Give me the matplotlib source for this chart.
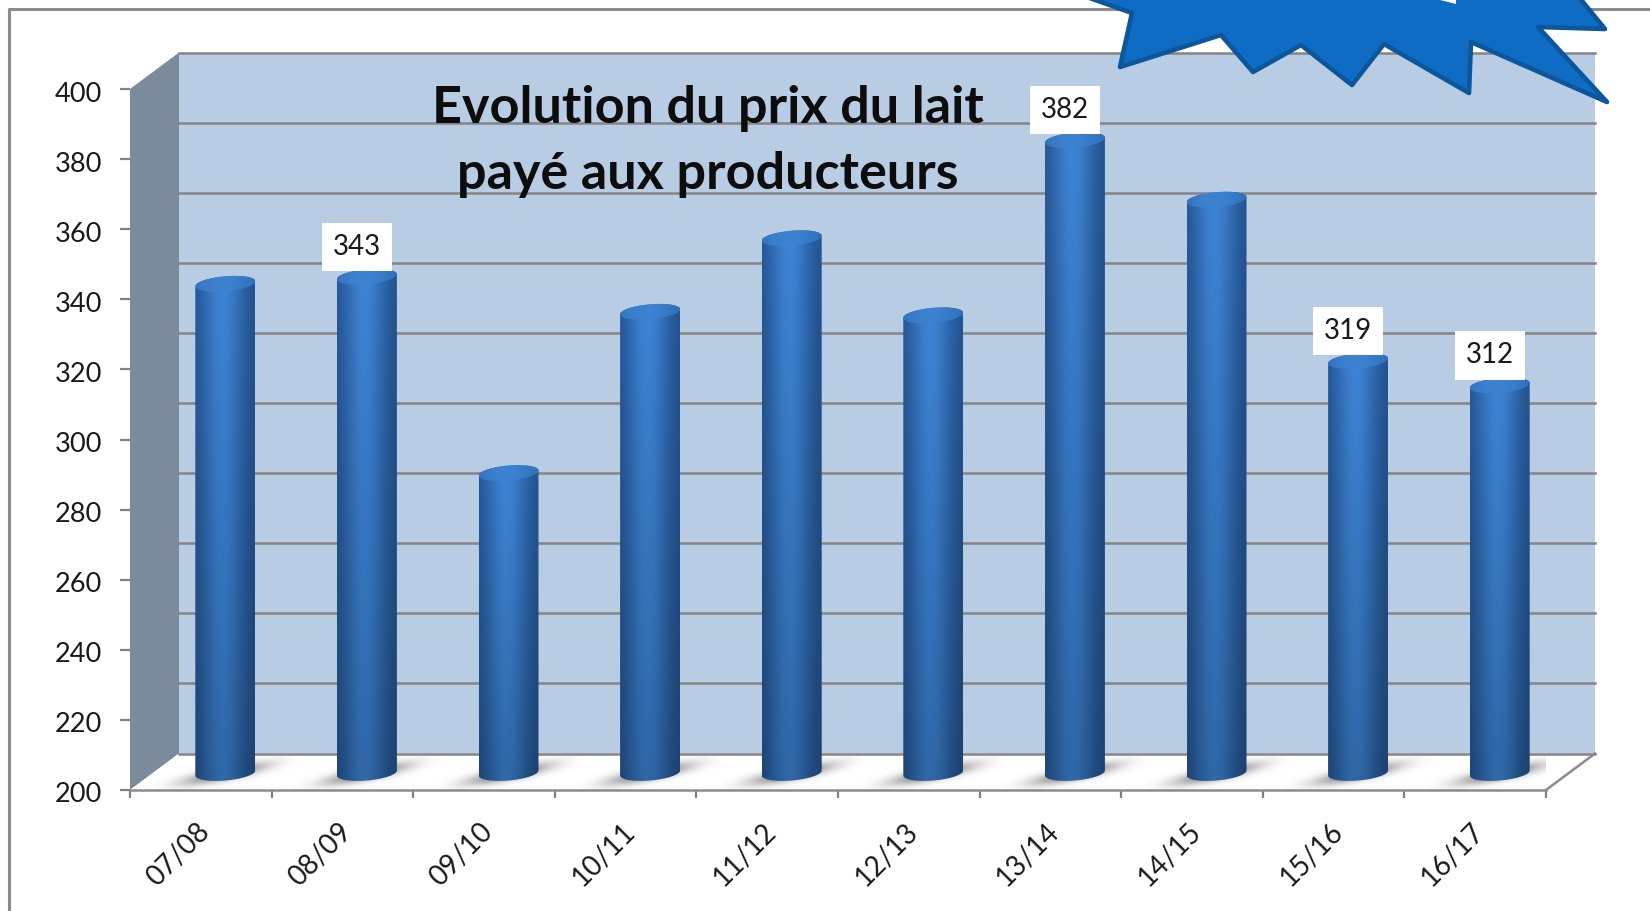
import numpy as np
import matplotlib
matplotlib.use('Agg')
import matplotlib.pyplot as plt
from matplotlib.patches import Polygon
from matplotlib.lines import Line2D
from matplotlib.transforms import ScaledTranslation

plt.rcParams['font.family'] = ['Lato', 'DejaVu Sans']

# Data
seasons = ['07/08', '08/09', '09/10', '10/11', '11/12', '12/13', '13/14', '14/15', '15/16', '16/17']
prices = [341, 343, 287, 333, 354, 332, 382, 365, 319, 312]
shown_labels = ['08/09', '13/14', '15/16', '16/17']
y_ticks = list(range(200, 401, 20))
title_lines = ['Evolution du prix du lait', 'payé aux producteurs']

W, H = 1650, 911
fig = plt.figure(figsize=(W / 100, H / 100), dpi=100, facecolor='white')

# front plane of the fake 3D box, in pixels
left, right, top, bottom = 130, 1546, 89, 790
ax = fig.add_axes([left / W, 1 - bottom / H, (right - left) / W, (bottom - top) / H])
ax.set_xlim(0, 10)
ax.set_ylim(200, 400)
ax.patch.set_visible(False)
px_x = (right - left) / 10
px_y = (bottom - top) / 200
dx, dy = 49 / px_x, 36.5 / px_y


def px(x, y):
    return x / W, 1 - y / H


# outer frame
fig.add_artist(Line2D([px(9, 0)[0], px(9, 0)[0], 1], [0, px(0, 9)[1], px(0, 9)[1]], color='#8c8c8c', lw=2.2))

# walls
ax.add_patch(Polygon([(0, 200), (0, 400), (dx, 400 + dy), (dx, 200 + dy)], fc='#7b8b9b', ec='none', clip_on=False, zorder=1))
ax.add_patch(Polygon([(dx, 200 + dy), (dx, 400 + dy), (10 + dx, 400 + dy), (10 + dx, 200 + dy)], fc='#b8cce4', ec='none', clip_on=False, zorder=1))
floor = Polygon([(0, 200), (dx, 200 + dy), (10 + dx, 200 + dy), (10, 200)], fc='white', ec='none', clip_on=False, zorder=1)
ax.add_patch(floor)

for t in y_ticks:
    ax.plot([dx, 10 + dx], [t + dy, t + dy], color='#858585', lw=1.8, clip_on=False, zorder=4)
ax.plot([10, 10 + dx], [200, 200 + dy], color='#8c8c8c', lw=1.8, clip_on=False, zorder=2)

# bars
half_w = 30 / px_x
ell_h = 7.5 / px_y
tilt = 2.5 / px_y
base = 200 + 17 / px_y
shift = 24.5 / px_x
t_low = np.linspace(np.pi, 2 * np.pi, 40)
t_up = np.linspace(0, np.pi, 40)

prof = np.linspace(0, 1, 80)
glow = np.exp(-((prof - 0.46) / 0.36) ** 2)
edge = np.array([0.13, 0.31, 0.54])
mid = np.array([0.24, 0.52, 0.84])
fade = np.linspace(1, 0.78, 120)[:, None, None]
body_img = (edge + (mid - edge) * glow[:, None])[None, :, :] * fade

cap_dark = np.array([0.15, 0.39, 0.66])
cap_light = np.array([0.24, 0.51, 0.82])
cap_glow = np.exp(-((prof - 0.45) / 0.6) ** 2)
cap_img = (cap_dark + (cap_light - cap_dark) * cap_glow[:, None])[None, :, :]

for i, (s, v) in enumerate(zip(seasons, prices)):
    cx = i + 0.5 + shift
    level = v + 12 / px_y

    # floor shadow, faded out before the edge of its image
    xs = np.linspace(cx - 0.6, cx + 0.6, 140)
    ys = np.linspace(200, 200 + dy, 50)
    xx, yy = np.meshgrid(xs, ys)
    u = (xx - cx) * px_x
    w = (yy - base) * px_y - 0.2 * u + 1
    window = np.clip(1 - (u / 85) ** 2, 0, 1) ** 2
    alpha = 0.85 * window * np.exp(-(u / 60) ** 2 - (w / 6.5) ** 2)
    rgba = np.zeros(xx.shape + (4,))
    rgba[..., :3] = 0.4
    rgba[..., 3] = alpha
    im = ax.imshow(rgba, extent=(xs[0], xs[-1], ys[0], ys[-1]), origin='lower', aspect='auto', zorder=3, interpolation='bilinear')
    im.set_clip_path(floor)

    # cylinder body
    low_x = cx + half_w * np.cos(t_low)
    low_y = base + ell_h * np.sin(t_low) + tilt * np.cos(t_low)
    up_x = cx + half_w * np.cos(t_up)
    up_y = level + ell_h * np.sin(t_up) + tilt * np.cos(t_up)
    body = Polygon(np.r_[np.c_[low_x, low_y], np.c_[up_x, up_y]], transform=ax.transData, fc='none', ec='none')
    ax.add_patch(body)
    im = ax.imshow(body_img, extent=(cx - half_w, cx + half_w, base - ell_h - tilt, level + ell_h + tilt),
                   origin='upper', aspect='auto', zorder=5, interpolation='bilinear')
    im.set_clip_path(body)

    # top of cylinder
    t_all = np.linspace(0, 2 * np.pi, 80)
    cap = Polygon(np.c_[cx + half_w * np.cos(t_all), level + ell_h * np.sin(t_all) + tilt * np.cos(t_all)],
                  transform=ax.transData, fc='none', ec='none')
    ax.add_patch(cap)
    im = ax.imshow(cap_img, extent=(cx - half_w, cx + half_w, level - ell_h - tilt, level + ell_h + tilt),
                   origin='upper', aspect='auto', zorder=6, interpolation='bilinear')
    im.set_clip_path(cap)

    if s in shown_labels:
        ax.text(cx - 10 / px_x, level + ell_h + 26 / px_y - 1, str(v), ha='center', va='center', fontsize=20,
                color='#1a1a1a', zorder=7,
                bbox=dict(boxstyle='square,pad=0.4', fc='white', ec='none'))

ax.set_xlim(0, 10)
ax.set_ylim(200, 400)

# axes
for side in ['top', 'right', 'left']:
    ax.spines[side].set_visible(False)
ax.spines['bottom'].set_color('#8c8c8c')
ax.spines['bottom'].set_linewidth(1.8)
ax.spines['bottom'].set_zorder(2)
ax.set_yticks(y_ticks)
ax.tick_params(axis='y', length=7.2, width=1.6, color='#808080', labelsize=19.5, labelcolor='#1a1a1a', pad=13)
for lab in ax.get_yticklabels():
    lab.set_transform(lab.get_transform() + ScaledTranslation(0, -2.5 / 100, fig.dpi_scale_trans))
ax.set_xticks(range(11))
ax.set_xticklabels([])
ax.tick_params(axis='x', which='major', length=6, width=1.6, color='#808080')
ax.set_xticks([i + 0.5 + 5 / px_x for i in range(10)], minor=True)
ax.set_xticklabels(seasons, minor=True, rotation=45, ha='right', va='center', rotation_mode='anchor', fontsize=20, color='#1a1a1a')
ax.tick_params(axis='x', which='minor', length=0, pad=27)

# title
for line, y in zip(title_lines, [109, 174]):
    fig.text(708 / W, 1 - y / H, line, ha='center', va='center', fontsize=37.5, fontweight='bold', color='#0d0d0d', zorder=7)

# star shape cut off at the top of the slide
star = [(1084, -4), (1132, 13), (1120, 67), (1221, 35), (1253, 72), (1301, 45), (1352, 85), (1384, 44), (1469, 93),
        (1471, 42), (1607, 102), (1538, 27), (1605, 29), (1578, -4)]
fig.add_artist(Polygon([px(*p) for p in star], closed=True, transform=fig.transFigure, fc='#0f6cc4', ec='#0b569c',
                       lw=3.3, joinstyle='round', zorder=8))
fig.add_artist(Polygon([px(*p) for p in [(1440, 0), (1456, 4), (1456, 0)]], closed=True, transform=fig.transFigure,
                       fc='white', ec='none', zorder=9))

plt.savefig('out.png', dpi=100)
